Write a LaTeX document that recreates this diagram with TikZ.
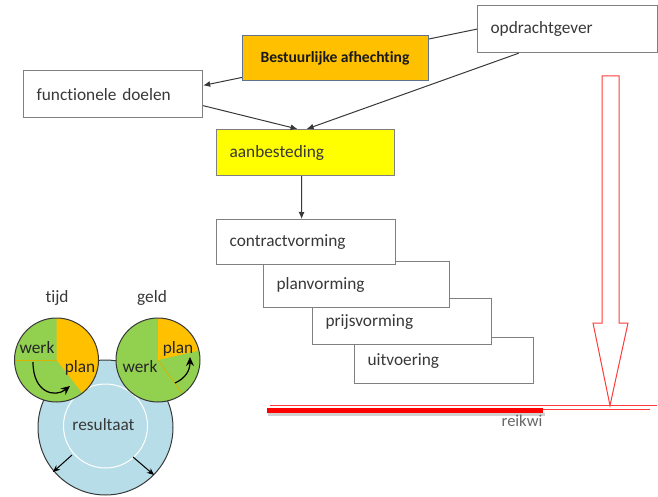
\documentclass[tikz,border=0pt]{standalone}
\usepackage{fontspec}
\setmainfont{Carlito}[Ligatures=NoCommon]
\usetikzlibrary{arrows.meta,calc}
\definecolor{boxline}{HTML}{7F7F7F}
\definecolor{txt}{HTML}{383838}
\definecolor{orng}{HTML}{FFC000}
\definecolor{yel}{HTML}{FFFF00}
\definecolor{grn}{HTML}{92D050}
\definecolor{lblue}{HTML}{B7DDE8}
\definecolor{redl}{HTML}{FF3B3B}
\definecolor{bestline}{HTML}{5F7391}
\definecolor{divline}{HTML}{D9B300}
\begin{document}
\begin{tikzpicture}[x=1pt,y=-1pt,
  box/.style={draw=boxline, line width=1.2pt, fill=white, inner xsep=13pt, inner ysep=0pt,
    align=left, text=txt, font=\fontsize{17.3}{20}\selectfont, anchor=north west},
  conn/.style={draw=txt, line width=1pt, -{Latex[length=7pt,width=6pt]}},
  pie/.style={draw=txt, line width=1pt},
  lbl/.style={text=txt, font=\fontsize{17.3}{20}\selectfont, inner sep=0pt},
  pielbl/.style={text=black!85, font=\fontsize{17.3}{20}\selectfont, inner sep=0pt},
  curvarrow/.style={line width=1.2pt, -{Stealth[length=9pt,width=8pt]}},
  resarrow/.style={line width=1pt, -{Stealth[length=7pt,width=6pt]}}
]
\useasboundingbox (0,0) rectangle (658,497);

% top boxes
\node[box, text width=154pt, minimum height=47pt] (opd) at (477,5) {opdrachtgever};
\node[box, text width=153pt, minimum height=47pt] (func) at (23,70) {functionele doelen};
\node[box, fill=yel, text width=152pt, minimum height=46pt] (aanb) at (216,129) {aanbesteding};

% connectors
\draw[conn] (opd.west) -- ($(func.north east)!0.32!(func.south east)$);
\draw[conn] ($(opd.south west)!0.23!(opd.south east)$) -- ($(aanb.north west)!0.506!(aanb.north east)$);
\draw[conn] ($(func.north east)!0.74!(func.south east)$) -- ($(aanb.north west)!0.455!(aanb.north east)$);

\node[draw=bestline, line width=1pt, fill=orng, minimum width=186pt, minimum height=45pt,
  font=\bfseries\fontsize{15.6}{18}\selectfont, text=black!90] (best) at (335,58.5) {Bestuurlijke afhechting};

% staircase
\node[box, text width=153pt, minimum height=46pt] (uitv) at (354,337) {uitvoering};
\node[box, text width=153pt, minimum height=46pt] (prijs) at (312,298) {prijsvorming};
\node[box, text width=160pt, minimum height=46pt] (plan) at (263,261) {planvorming};
\node[box, text width=153pt, minimum height=45pt] (contract) at (216,219) {contractvorming};
\draw[conn] ($(aanb.south west)!0.478!(aanb.south east)$) -- ($(contract.north west)!0.475!(contract.north east)$);

% red arrow and baseline
\draw[redl, line width=1pt, line join=miter] (602,76) -- (619,76) -- (619,323) -- (628,323) -- (610,405.5) -- (593,323) -- (602,323) -- cycle;
\draw[redl, line width=0.9pt] (270,405.5) -- (657,405.5);
\draw[redl, line width=0.8pt] (543,409) -- (650,409);
\fill[black!18] (268,412.5) rectangle (545,415.5);
\fill[red] (266.5,408) rectangle (543,413);
\node[text=black!60, font=\fontsize{16.5}{19}\selectfont, anchor=west, inner sep=0pt] (reik) at (501.5,421) {reikwi};

% result circle
\coordinate (rc) at (105.5,427.5);
\coordinate (ric) at (105.5,426);
\filldraw[fill=lblue, draw=txt, line width=1pt] (rc) circle[radius=67.5];
\draw[white, line width=1pt] (ric) circle[radius=42];
\node[lbl] (res) at (103.5,425) {resultaat};
\coordinate (la1) at (72,455);
\coordinate (la2) at (53,472);
\coordinate (ra1) at (133,457);
\coordinate (ra2) at (154,475);
\draw[resarrow] (la1) -- (la2);
\draw[resarrow] (ra1) -- (ra2);

% tijd circle
\coordinate (tc) at (56.5,360);
\fill[grn] (tc) circle[radius=42];
\fill[orng] (tc) -- +(-90:42) arc[start angle=-90, end angle=52, radius=42] -- cycle;
\draw[divline, line width=0.8pt] (tc) -- +(180:42);
\draw[pie] (tc) circle[radius=42];
\node[pielbl] (tw) at (37,348) {werk};
\node[pielbl] (tp) at (80,368) {plan};
\coordinate (ta1) at (33,362);
\coordinate (ta2) at (70,386);
\draw[curvarrow] (ta1) .. controls (33,393) and (55,398) .. (ta2);
\node[lbl] (tijd) at (57,298) {tijd};

% geld circle
\coordinate (gc) at (158,360);
\fill[grn] (gc) circle[radius=42];
\fill[orng] (gc) -- +(-90:42) arc[start angle=-90, end angle=-13, radius=42] -- cycle;
\draw[divline, line width=0.8pt] (gc) -- +(54:42);
\draw[pie] (gc) circle[radius=42];
\node[pielbl] (gp) at (178,349) {plan};
\node[pielbl] (gw) at (140,367) {werk};
\coordinate (ga1) at (175,383);
\coordinate (ga2) at (190,357);
\draw[curvarrow] (ga1) .. controls (186,378) and (190,370) .. (ga2);
\node[lbl] (geld) at (152,298) {geld};
\end{tikzpicture}
\end{document}
